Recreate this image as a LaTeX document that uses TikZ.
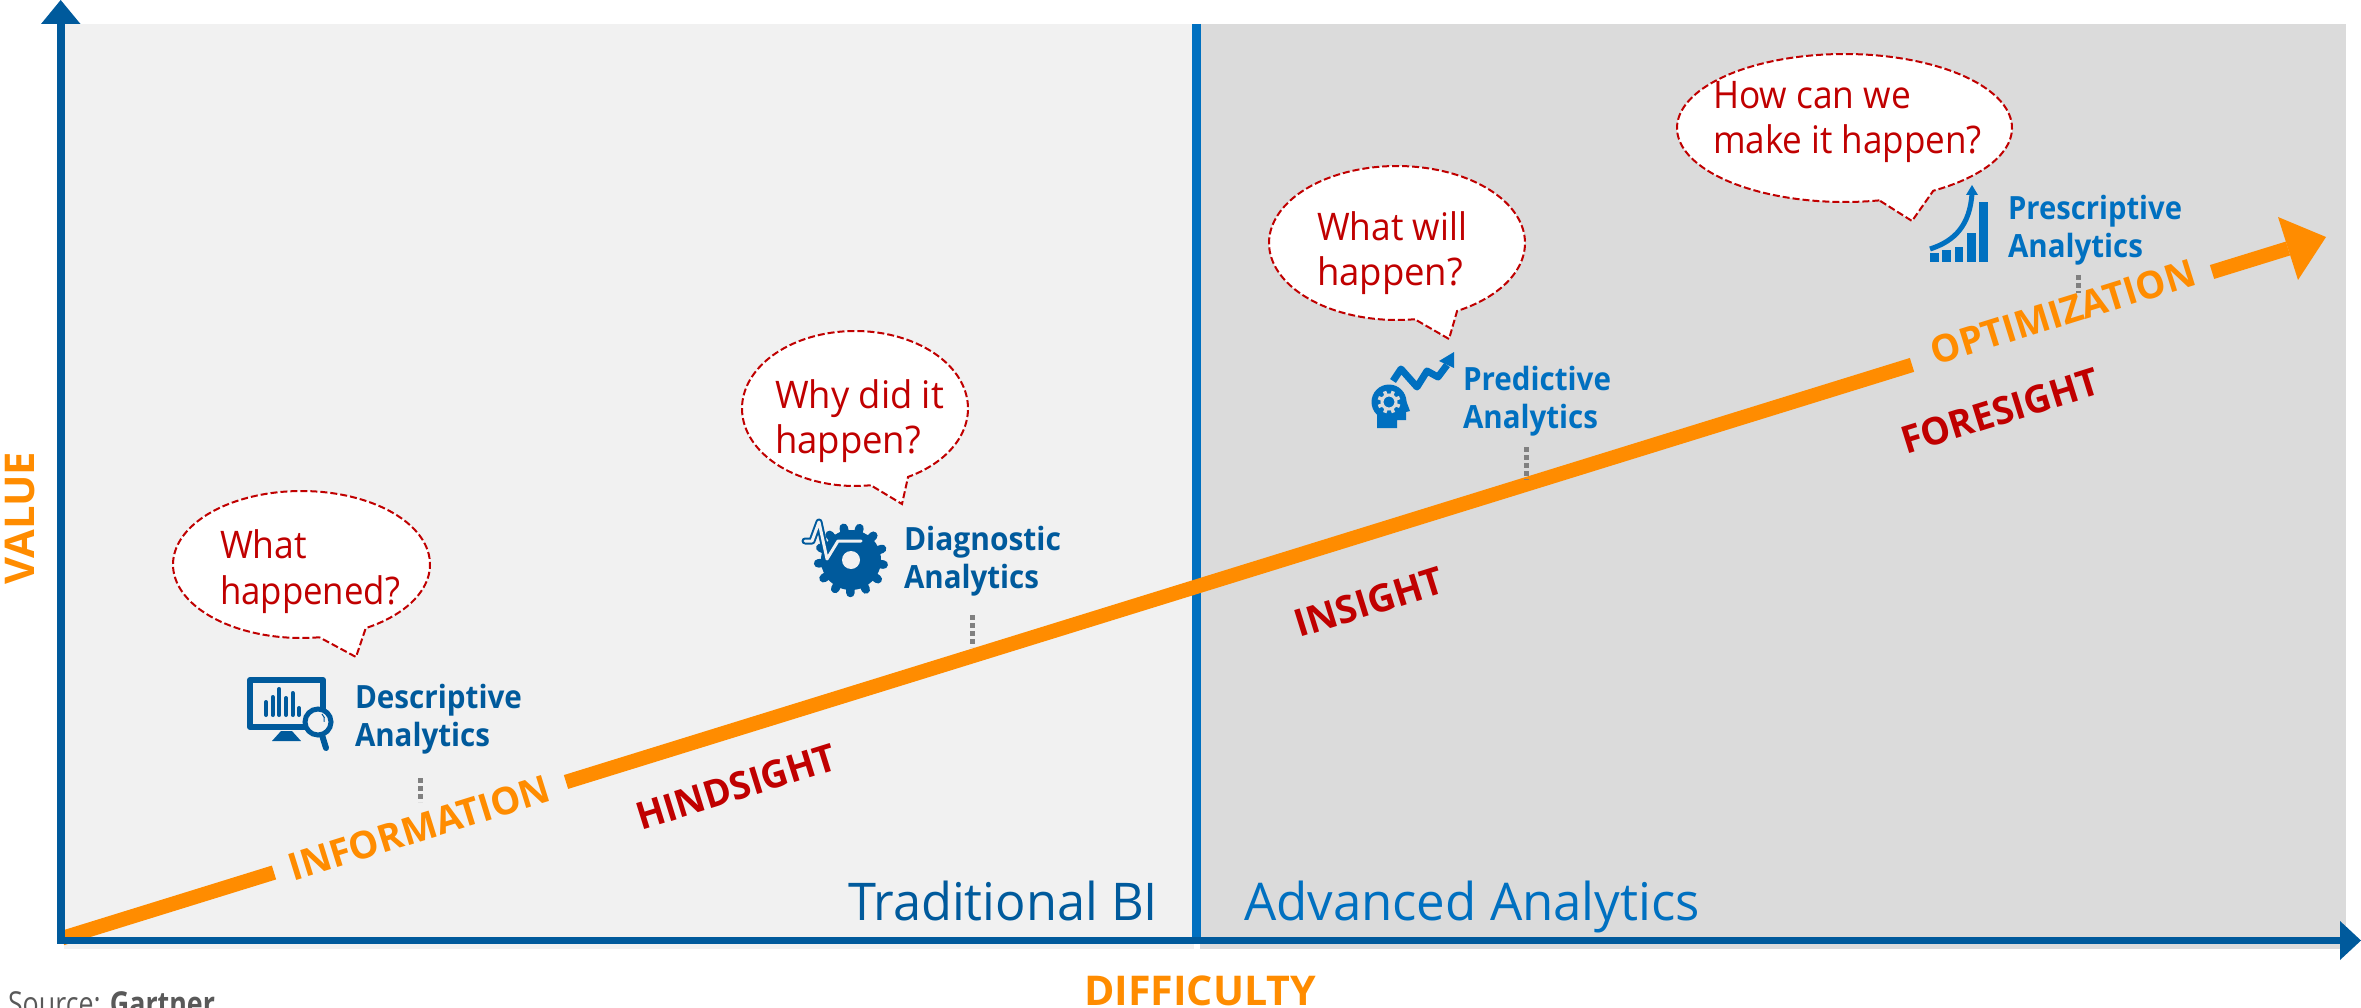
\documentclass[tikz,border=0pt]{standalone}
\usepackage{fontspec}
\usepackage{graphicx}
\setmainfont{Open Sans}
\definecolor{navy}{RGB}{0,90,156}
\definecolor{azure}{RGB}{0,112,192}
\definecolor{amber}{RGB}{255,140,0}
\definecolor{crimson}{RGB}{192,0,0}
\definecolor{lightbg}{RGB}{241,241,241}
\definecolor{darkbg}{RGB}{219,219,219}
\definecolor{dotgrey}{RGB}{128,128,128}
\definecolor{srcgrey}{RGB}{89,89,89}
\newcommand\fw[2]{\resizebox{#1pt}{\height}{#2}}
\tikzset{
  every node/.style={inner sep=0pt,outer sep=0pt},
  axisline/.style={navy,line width=7.8pt},
  trend/.style={amber,line width=14.5pt},
  bubbleline/.style={draw=crimson,fill=white,line width=2pt,dash pattern=on 7pt off 3pt,line join=miter},
  bubbletext/.style={text=crimson,align=left,anchor=base west,font=\fontsize{38}{45.5}\selectfont},
  iconnavy/.style={text=navy,align=left,anchor=base west,font=\fontsize{32}{38}\selectfont\bfseries},
  iconazure/.style={text=azure,align=left,anchor=base west,font=\fontsize{32}{38}\selectfont\bfseries},
  slanted/.style={rotate=17.3,anchor=center,font=\fontsize{38}{44}\selectfont\bfseries},
  tick/.style={dotgrey,line width=5pt,dash pattern=on 5pt off 3pt},
  zone/.style={anchor=base west,font=\fontsize{52}{60}\selectfont},
}
\newcommand\bubble[9]{%
  \draw[bubbleline] plot[domain=#8:#9,samples=90,smooth] ({#2+#4*cos(\x)},{#3+#5*sin(\x)}) -- (#6,#7) -- cycle;}
\begin{document}
\begin{tikzpicture}[x=1pt,y=-1pt]
\useasboundingbox (0,0) rectangle (2361,1008);
% panels
\fill[lightbg] (64,24) rectangle (1194,949);
\fill[darkbg] (1200,24) rectangle (2346,949);
% divider
\coordinate (divT) at (1196.5,24);
\coordinate (divB) at (1196.5,940);
\draw[azure,line width=8.5pt] (divT) -- (divB);
% trend line
\coordinate (t0) at (62,938.2);
\coordinate (t1) at (274,872.5);
\coordinate (t2) at (566,782);
\coordinate (t3) at (1912,364.9);
\coordinate (t4) at (2212,272);
\coordinate (t5) at (2288,248.5);
\coordinate (tip) at (2326,237);
\coordinate (hA) at (2278,217);
\coordinate (hB) at (2298,280);
\draw[trend] (t0) -- (t1);
\draw[trend] (t2) -- (t3);
\draw[trend] (t4) -- (t5);
\fill[amber] (tip) -- (hA) -- (hB) -- cycle;
% axes
\coordinate (org) at (60.7,940.5);
\coordinate (yb) at (60.7,24);
\coordinate (xb) at (2340,940.5);
\draw[axisline,line cap=round] (yb) -- (org) -- (xb);
\fill[navy] (60.7,0) -- (41,24) -- (80.5,24) -- cycle;
\fill[navy] (2361,940.5) -- (2340,921) -- (2340,960) -- cycle;
% ticks
\coordinate (k1a) at (420,778); \coordinate (k1b) at (420,802);
\coordinate (k2a) at (972,615); \coordinate (k2b) at (972,647);
\coordinate (k3a) at (1526,447); \coordinate (k3b) at (1526,480);
\coordinate (k4a) at (2078,275); \coordinate (k4b) at (2078,293);
\draw[tick] (k1a) -- (k1b);
\draw[tick] (k2a) -- (k2b);
\draw[tick] (k3a) -- (k3b);
\draw[tick] (k4a) -- (k4b);
% bubbles
\bubble{b1}{301.5}{564.5}{128.5}{73.5}{356}{657}{82}{420}
\bubble{b2}{855}{408.5}{113}{77.5}{902}{504}{82}{422}
\bubble{b3}{1397}{243}{128}{77}{1449}{339}{82}{422}
\bubble{b4}{1844.5}{128}{167.5}{74}{1912}{221}{78}{418}
\node[bubbletext] (q1) at (220,604) {\fw{87}{What}\\\fw{180}{happened?}};
\node[bubbletext] (q2) at (775,453.5) {\fw{169}{Why did it}\\\fw{146}{happen?}};
\node[bubbletext] (q3) at (1317,286) {\fw{150}{What will}\\\fw{146}{happen?}};
\node[bubbletext] (q4) at (1713,154) {\fw{198}{How can we}\\\fw{269}{make it happen?}};
% icon labels
\node[iconnavy] (l1) at (355,746) {\fw{167}{Descriptive}\\\fw{135}{Analytics}};
\node[iconnavy] (l2) at (904,588) {\fw{157}{Diagnostic}\\\fw{135}{Analytics}};
\node[iconazure] (l3) at (1463,428) {\fw{148}{Predictive}\\\fw{135}{Analytics}};
\node[iconazure] (l4) at (2008,258) {\fw{174}{Prescriptive}\\\fw{135}{Analytics}};
% descriptive icon
\draw[navy,line width=6pt,line join=round] (250,680) rectangle (323,727);
\fill[navy] (272,741) -- (281,731) -- (292,731) -- (301,741) -- cycle;
\foreach \bx/\by in {266/702,272.7/697,279.3/689,286/698,292.7/693,299/708}
  \draw[navy,line width=4pt,line cap=round] (\bx,\by) -- (\bx,715);
\draw[navy,line width=6pt,line cap=round] (322,735) -- (326,748);
\draw[navy,fill=lightbg,line width=5pt] (318,722) circle (13);
\draw[navy,line width=1pt] (322,714) arc (-50:20:7);
% diagnostic icon
\fill[navy] (851,560) circle (30);
\foreach \i in {0,...,12}
  \draw[navy,line width=8.5pt,line cap=round] (851,560) ++(\i*27.69+8:26) -- ++(\i*27.69+8:7);
\fill[lightbg] (851,560) circle (9);
\draw[navy,line width=7pt,line join=round,line cap=round] (805,541) -- (812,541) -- (819,522) -- (827,559) -- (838,541) -- (861,541);
\draw[lightbg,line width=3pt,line join=round,line cap=round] (805,541) -- (812,541) -- (819,522) -- (827,559) -- (838,541) -- (861,541);
% predictive icon
\draw[azure,line width=7pt,line join=round] (1393,381) -- (1401,369) -- (1417,387) -- (1427,371) -- (1438,377) -- (1447,365);
\fill[azure] (1454,352) -- (1439,361) -- (1454,368) -- cycle;
\fill[azure] (1389,402) circle (17.5);
\fill[azure] (1377,405) -- (1377,428) -- (1397,428) -- (1397,420) -- (1406,420) -- (1406,412) -- (1410,411) -- (1404,395) -- cycle;
\foreach \i in {0,...,7}
  \draw[darkbg,line width=3.5pt] (1389,402) ++(\i*45+22:7) -- ++(\i*45+22:4.5);
\draw[darkbg,line width=3pt] (1389,402) circle (7);
% prescriptive icon
\fill[azure] (1930,253) rectangle (1939,262);
\fill[azure] (1942,250) rectangle (1951,262);
\fill[azure] (1955,247) rectangle (1963,262);
\fill[azure] (1967,233) rectangle (1976,262);
\fill[azure] (1979,202) rectangle (1988,262);
\draw[azure,line width=5pt] (1930,249) .. controls (1955,241) and (1970,225) .. (1972,193);
\fill[azure] (1972,185) -- (1966,195) -- (1978,195) -- cycle;
% slanted labels
\node[slanted,text=amber] (s1) at (419,828) {\fw{272}{INFORMATION}};
\node[slanted,text=crimson] (s2) at (736,787) {\fw{207}{HINDSIGHT}};
\node[slanted,text=crimson] (s3) at (1369,602) {\fw{154}{INSIGHT}};
\node[slanted,text=amber] (s4) at (2063,312) {\fw{275}{OPTIMIZATION}};
\node[slanted,text=crimson] (s5) at (2000,411) {\fw{205}{FORESIGHT}};
% zones
\node[zone,text=navy] (z1) at (848,920) {\fw{310}{Traditional BI}};
\node[zone,text=azure] (z2) at (1244,920) {\fw{456}{Advanced Analytics}};
% axis titles
\node[text=amber,rotate=90,anchor=center,font=\fontsize{41}{46}\selectfont\bfseries] (vv) at (20,518) {\fw{132}{VALUE}};
\node[text=amber,anchor=base,font=\fontsize{41}{46}\selectfont\bfseries] (dd) at (1200,1005) {\fw{232}{DIFFICULTY}};
\node[text=srcgrey,anchor=base west,font=\fontsize{33}{38}\selectfont] (src) at (8,1015) {\fw{207}{Source: \textbf{Gartner}}};
\end{tikzpicture}
\end{document}
